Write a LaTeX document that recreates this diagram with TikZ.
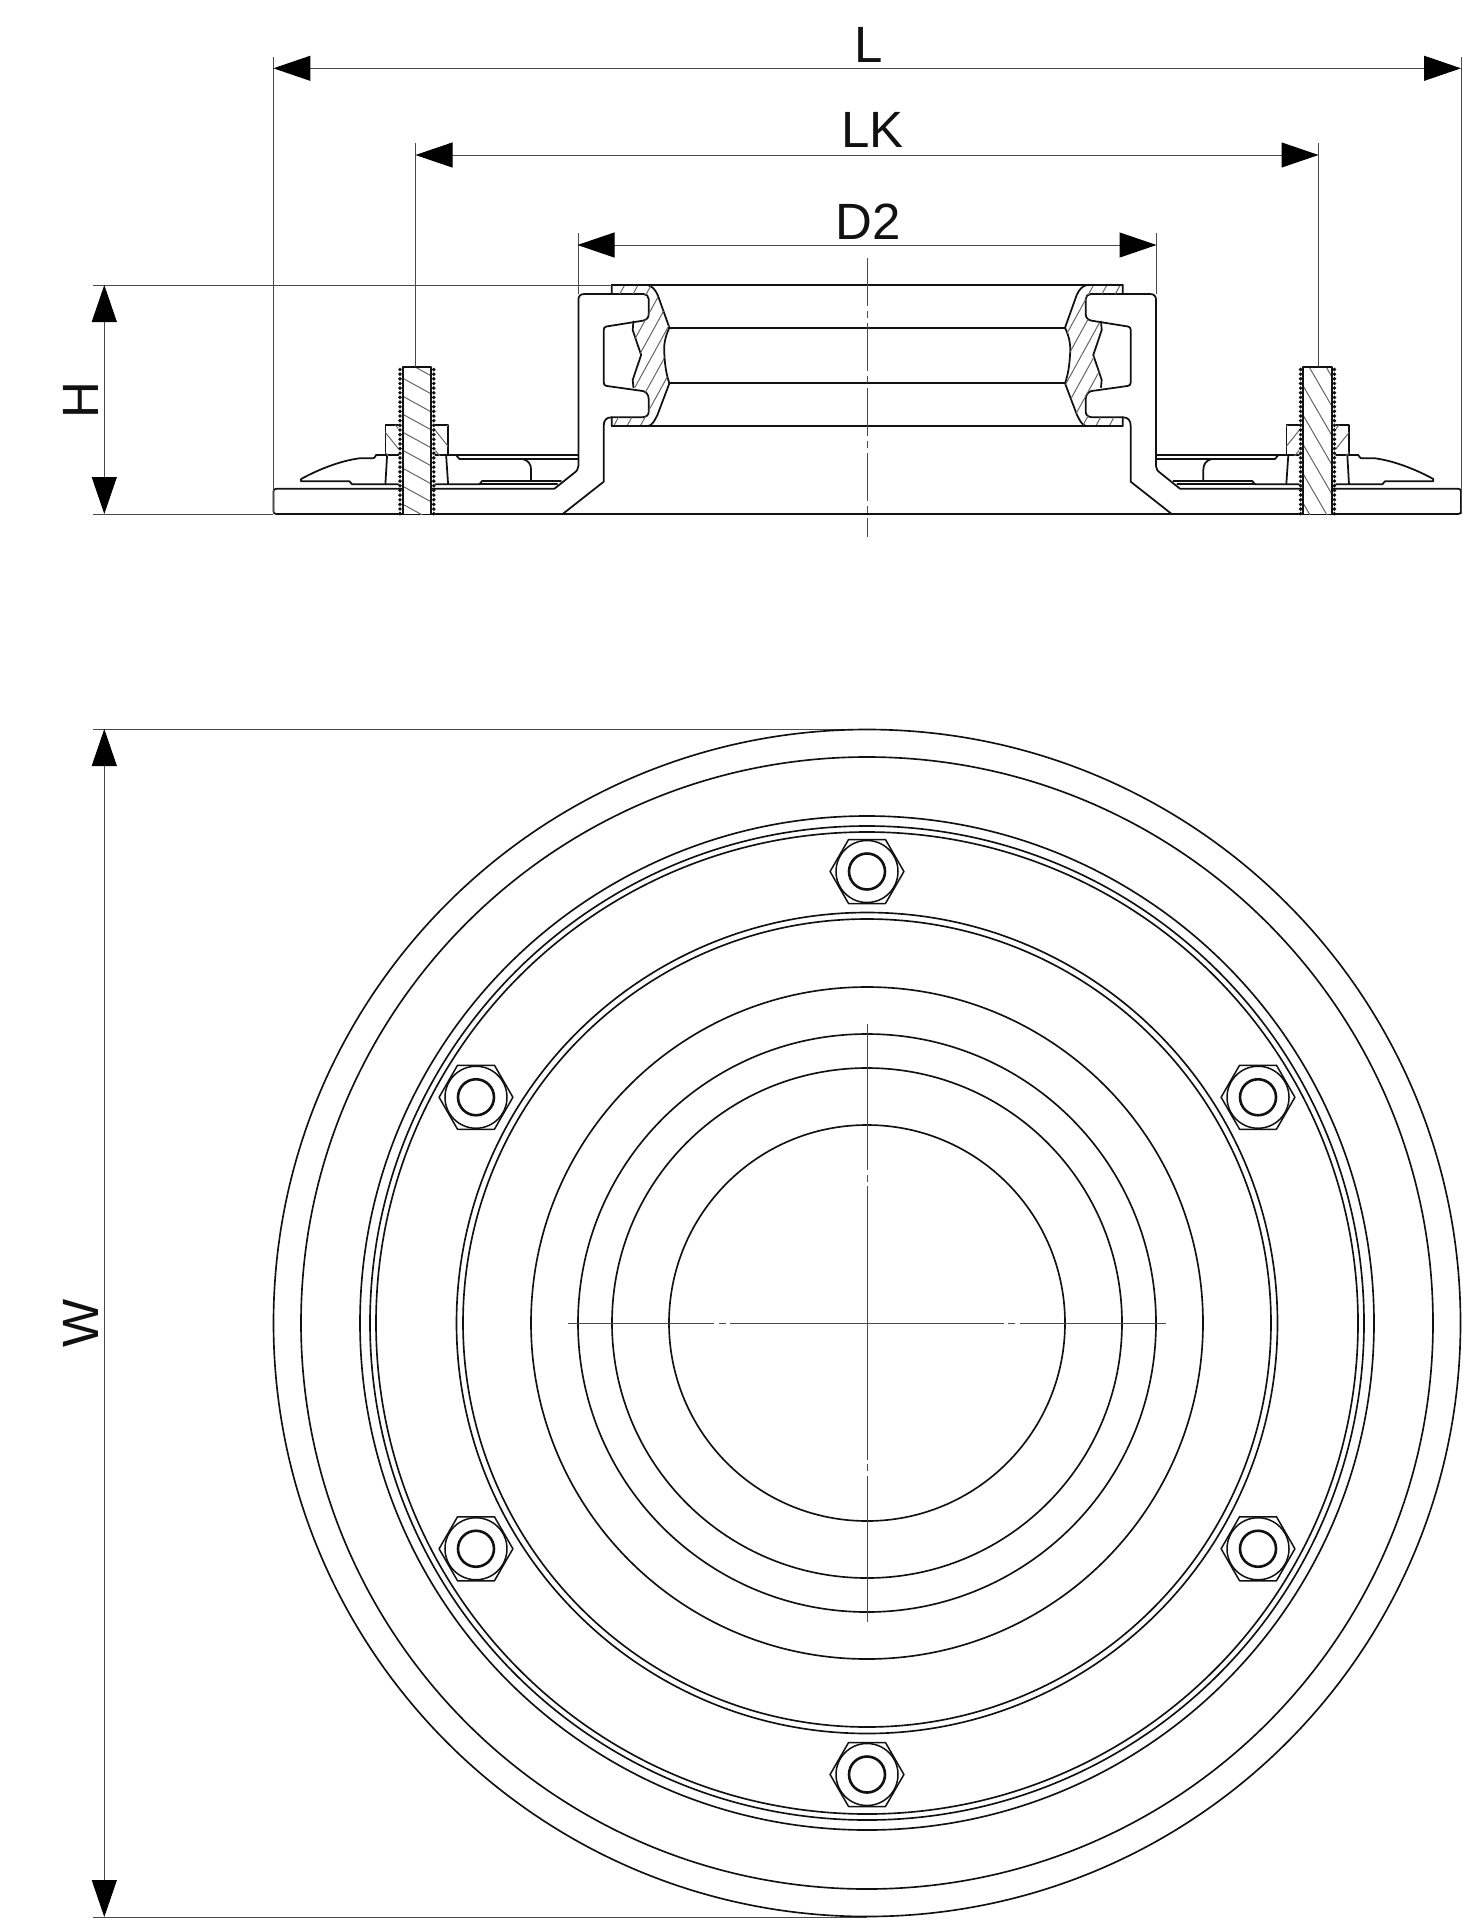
\documentclass[tikz,border=0pt]{standalone}
\usepackage{fontspec}
\setmainfont{Liberation Sans}
\usetikzlibrary{arrows.meta}
\definecolor{ink}{HTML}{111111}
\definecolor{dimgrey}{HTML}{4A4A4A}
\definecolor{hatchgrey}{HTML}{666666}
\tikzset{
  heavy/.style={draw=ink,line width=1.75pt,line join=round,line cap=round},
  ring/.style={draw=ink,line width=1.65pt},
  thinline/.style={draw=dimgrey,line width=1pt},
  hatchline/.style={draw=hatchgrey,line width=1pt},
  dimline/.style={thinline,{Triangle[length=37pt,width=25pt,color=black]}-{Triangle[length=37pt,width=25pt,color=black]}},
  dimtext/.style={inner sep=0pt,font=\fontsize{51}{51}\selectfont,text=ink},
  centerline/.style={draw=dimgrey,line width=1pt},
}
% c=(cx,cy), direction (dx,dy), step (sx,sy)
\newcommand{\hatchset}[8]{%
  \foreach \i in {-14,...,14}{%
    \draw[hatchline] ({#1+\i*#5-#3},{#2+\i*#6-#4}) -- ({#1+\i*#5+#3},{#2+\i*#6+#4});}%
}
\newcommand{\sealpathclip}{\path[clip] (612.3,285) -- (648,285) .. controls (653,286) and (656,290) .. (658.3,295)
  -- (670,327.7) .. controls (665.5,337) and (664,346) .. (665,355) .. controls (665.5,365) and (667,375) .. (670,383.3)
  -- (658,415) .. controls (655,421) and (653,425) .. (649,426) -- (612.3,426) -- (612.3,417.3) -- (643,417.3)
  .. controls (647,417) and (649.3,415) .. (649.3,411.7) -- (649.3,399) .. controls (649.3,394) and (646,391.5) .. (643.3,391)
  -- (634,387.3) -- (633.3,380) -- (641.7,355) -- (633.3,330) -- (633.3,323.3) -- (643.3,320.7)
  .. controls (647,320) and (649.3,318) .. (649.3,314) -- (649.3,299) .. controls (649.3,296) and (647,294) .. (644,294)
  -- (612.3,294) -- cycle;}
% #1 seal hatch x-direction, #2..#5 bolt hatch dx dy sx sy
\newcommand{\halfsection}[5]{%
  % base + housing
  \draw[heavy] (277,488.7) -- (555,488.7) -- (574,473.5) .. controls (577.5,471) and (579,469) .. (579,466)
    -- (579,300) .. controls (579,296) and (581,294) .. (585,294) -- (644,294)
    .. controls (647,294) and (649.3,296) .. (649.3,299) -- (649.3,314) .. controls (649.3,318) and (647,320) .. (643.3,320.7)
    -- (607,326.5) .. controls (605,327) and (604.3,328) .. (604.3,330) -- (604.3,382)
    .. controls (604.3,384.5) and (605,385.5) .. (607,385.9) -- (643.3,391)
    .. controls (646,391.5) and (649.3,394) .. (649.3,399) -- (649.3,411.7) .. controls (649.3,415) and (647,417) .. (643,417.3)
    -- (612,417.3) .. controls (607,417.5) and (604.3,420) .. (604.3,426) -- (604.3,481.7) -- (563.3,514) -- (277,514)
    .. controls (275,514) and (274,513) .. (274,511) -- (274,491.7) .. controls (274,489.7) and (275,488.7) .. (277,488.7) -- cycle;
  % seal outline
  \draw[heavy] (612.3,294) -- (612.3,285) -- (648,285) .. controls (653,286) and (656,290) .. (658.3,295) -- (670,327.7)
    .. controls (665.5,337) and (664,346) .. (665,355) .. controls (665.5,365) and (667,375) .. (670,383.3)
    -- (658,415) .. controls (655,421) and (653,425) .. (649,426) -- (612.3,426) -- (612.3,417.3);
  \draw[heavy] (634,321.5) -- (633.3,330) -- (641.7,355) -- (633.3,380) -- (634,387.3);
  \begin{scope}\sealpathclip
    \hatchset{640}{355}{#1*55}{-100}{13.3}{0}{0}{0}
  \end{scope}
  % flange clamp
  \draw[heavy] (399,455) -- (376.7,455) .. controls (375,458.3) and (374,458.3) .. (373.3,458.3) -- (360,458.3)
    .. controls (340,461) and (318,470) .. (301.7,479) -- (301.7,481.3) -- (350,481.3) -- (352.7,484.3) -- (399,484.3);
  \draw[heavy] (436,455) -- (456.7,455) -- (578.3,455);
  \draw[heavy] (456.7,455) -- (460,459) -- (578.3,459);
  \draw[heavy] (523.3,459) .. controls (529,460.5) and (531.7,464) .. (531.7,470) -- (531.7,481);
  \draw[heavy] (436,484.3) -- (480,484.3) -- (482.7,481) -- (561.7,481);
  \draw[heavy] (480,484.3) -- (557.7,484.3);
  % washer sides
  \draw[heavy] (387.7,455) -- (386,484.3);
  \draw[heavy] (446.7,455) -- (448.7,484.3);
  % nut
  \draw[heavy,line width=1.3pt] (399,425) -- (386,425) -- (386,455);
  \draw[heavy,line width=1.3pt] (436,425) -- (448.7,425) -- (448.7,455);
  \begin{scope}\path[clip] (386,425) rectangle (399,455);
    \hatchset{392}{440}{20}{25}{0}{20}{0}{0}
  \end{scope}
  \begin{scope}\path[clip] (436,425) rectangle (448.7,455);
    \hatchset{442}{438}{20}{25}{0}{20}{0}{0}
  \end{scope}
  % bolt
  \fill[white] (403.3,367.3) rectangle (431.7,514);
  \begin{scope}\path[clip] (403.3,367.3) rectangle (431.7,514);
    \hatchset{417.5}{440}{#2}{#3}{#4}{#5}{0}{0}
  \end{scope}
  \draw[heavy,line width=2.3pt] (403.3,514) -- (403.3,367.3) -- (431.7,367.3) -- (431.7,514);
  \foreach \k in {0,...,31}{%
    \fill[ink] (400.6,{369.5+\k*4.65}) circle (1.95);
    \fill[ink] (434.4,{369.5+\k*4.65}) circle (1.95);}
}
\begin{document}
\begin{tikzpicture}[x=1pt,y=-1pt]
\useasboundingbox (0,0) rectangle (1465,1920);
\fill[white] (0,0) rectangle (1465,1920);

% ---- named points of the dimensioning ----
\coordinate (Lleft) at (273.4,68.3);  \coordinate (Lright) at (1461,68.3);
\coordinate (LKleft) at (415.5,155);  \coordinate (LKright) at (1318.5,155);
\coordinate (Dleft) at (577.5,245);   \coordinate (Dright) at (1156.5,245);
\coordinate (Htop) at (104.3,285);    \coordinate (Hbot) at (104.3,514);
\coordinate (Wtop) at (104.3,729);    \coordinate (Wbot) at (104.3,1917);

% ---- section view ----
\begin{scope}[shift={(-0.6,0)}]
\halfsection{1}{100}{55}{0}{18}
\end{scope}
\begin{scope}[shift={(1735,0)},xscale=-1]
  \halfsection{-1}{-58}{100}{17}{0}
\end{scope}
\foreach \yy in {327.7,383.3}{\draw[heavy] (669,\yy) -- (1065,\yy);}
\foreach \yy in {285,426}{\draw[heavy] (611.7,\yy) -- (1122.7,\yy);}
\draw[heavy] (562,514) -- (1172,514);

% centre line of the section
\draw[centerline,dash pattern=on 48pt off 5pt on 7pt off 5pt] (867,258) -- (867,537);

% ---- extension lines ----
\draw[thinline] (273.4,57) -- (273.4,514);
\draw[thinline] (1461,57) -- (1461,514);
\draw[thinline] (415.5,143) -- (415.5,367);
\draw[thinline] (1318.5,143) -- (1318.5,367);
\draw[thinline] (578,233) -- (578,294);
\draw[thinline] (1156,233) -- (1156,294);
\draw[thinline] (93,285) -- (611.7,285);
\draw[thinline] (93,514) -- (273.4,514);
\draw[thinline] (93,729) -- (867,729);
\draw[thinline] (93,1917) -- (867,1917);

% ---- dimension lines ----
\draw[dimline] (Lleft) -- (Lright);
\draw[dimline] (LKleft) -- (LKright);
\draw[dimline] (Dleft) -- (Dright);
\draw[dimline] (Htop) -- (Hbot);
\draw[dimline] (Wtop) -- (Wbot);

\node[dimtext] (dimL) at (868.8,45) {L};
\node[dimtext] (dimLK) at (872.8,130) {LK};
\node[dimtext] (dimD) at (867.8,221.5) {D2};
\node[dimtext,rotate=90] (dimH) at (81,400) {H};
\node[dimtext,rotate=90] (dimW) at (81,1323) {W};

% ---- plan view ----
\foreach \r in {593.5,566,507,497,491,410.5,404,336,289,255,198}{
  \draw[ring] (867,1323) circle (\r);
}
\foreach \a in {30,90,150,210,270,330}{
  \begin{scope}[shift={({867+451.5*cos(\a)},{1323-451.5*sin(\a)})}]
    \draw[heavy,line width=1.5pt] (36.9,0) -- (18.45,32) -- (-18.45,32) -- (-36.9,0) -- (-18.45,-32) -- (18.45,-32) -- cycle;
    \draw[heavy,line width=1.5pt] (0,0) circle (31);
    \draw[heavy,line width=2.6pt] (0,0) circle (18);
  \end{scope}
}
% centre lines of the plan
\draw[centerline] (568,1323.3) -- (714,1323.3) (719,1323.3) -- (726,1323.3) (730,1323.3) -- (1004,1323.3) (1008,1323.3) -- (1015,1323.3) (1020,1323.3) -- (1166,1323.3);
\draw[centerline] (867,1024) -- (867,1170) (867,1175) -- (867,1182) (867,1186) -- (867,1460) (867,1464) -- (867,1471) (867,1476) -- (867,1622);
\end{tikzpicture}
\end{document}
